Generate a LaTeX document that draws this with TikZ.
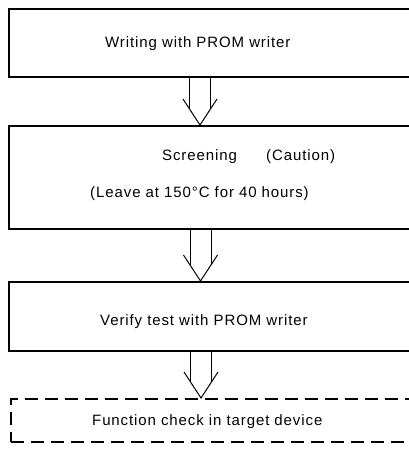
\documentclass[tikz,border=0pt]{standalone}
\usepackage{fontspec}
\setmainfont{Liberation Sans}[LetterSpace=6]
\usetikzlibrary{calc}
\newcommand{\hollowarr}[3]{%
  \draw[arr] ($(#1.south -| #3)+(-10.5,0)$) -- ($(#2.north -| #3)+(-10.5,-16)$);
  \draw[arr] ($(#1.south -| #3)+(10.5,0)$) -- ($(#2.north -| #3)+(10.5,-16)$);
  \draw[arr] ($(#2.north -| #3)+(-17,-26)$) -- (#2.north -| #3) -- ($(#2.north -| #3)+(17,-26)$);}
\begin{document}
\begin{tikzpicture}[x=1pt,y=-1pt,
  box/.style={draw, line width=1.8pt, rectangle, inner sep=0pt, anchor=north west, minimum width=412pt},
  dbox/.style={box, line width=2pt, dash pattern=on 13pt off 7pt},
  lbl/.style={font=\fontsize{15}{17}\selectfont, inner sep=0pt, anchor=base west},
  arr/.style={line width=1pt}]
\useasboundingbox (0,0) rectangle (409,467);
\clip (0,0) rectangle (409,467);
\node[box, minimum height=68pt]  (b1) at (8,8) {};
\node[box, minimum height=103pt] (b2) at (8,125) {};
\node[box, minimum height=69pt]  (b3) at (8,281) {};
\node[dbox, minimum height=43pt] (b4) at (10,398) {};
\node[lbl] (t1) at (105,47) {Writing with PROM writer};
\node[lbl] (t2) at (162,160) {Screening};
\node[lbl] (t3) at (266,160) {(\hspace{1pt}Caution)};
\node[lbl] (t4) at (90,197) {(\hspace{1pt}Leave at 150°C for 40 hours)};
\node[lbl] (t5) at (100,325) {Verify test with PROM writer};
\node[lbl] (t6) at (92,425) {Function check in target device};
\coordinate (x1) at (200,0);
\coordinate (x2) at (200.5,0);
\coordinate (x3) at (201,0);
\hollowarr{b1}{b2}{x1}
\hollowarr{b2}{b3}{x2}
\hollowarr{b3}{b4}{x3}
\end{tikzpicture}
\end{document}
